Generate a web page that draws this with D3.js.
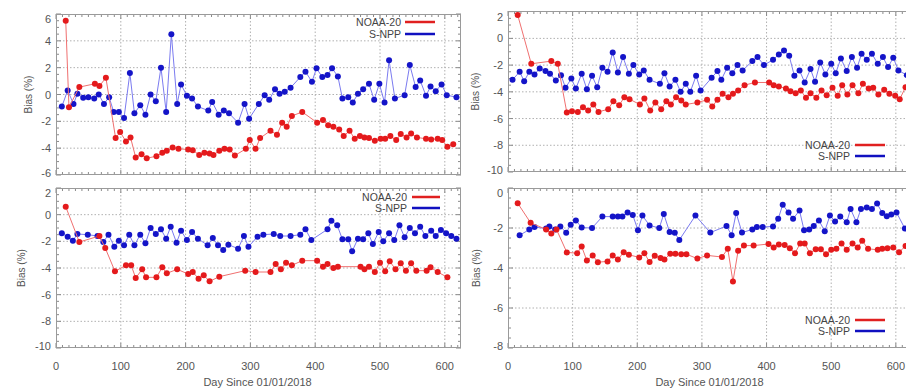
<!DOCTYPE html>
<html><head><meta charset="utf-8">
<script src="https://cdn.jsdelivr.net/npm/d3@7"></script>
<style>body{margin:0;background:#fff}svg{display:block;font-family:"Liberation Sans",Arial,sans-serif}</style>
</head><body><svg id="c" width="906" height="388"></svg>
<script>
// ---------------- DATA ----------------
const xTicks = [0,100,200,300,400,500,600];
const xTitle = "Day Since 01/01/2018";
const yTitle = "Bias (%)";
const seriesNames = ["NOAA-20","S-NPP"];
const yTicksA = [-6,-4,-2,0,2,4,6];
const yTicksB = [-10,-8,-6,-4,-2,0,2];
const yTicksC = [-10,-8,-6,-4,-2,0,2];
const yTicksD = [-8,-6,-4,-2,0];

// Panel A (top-left)
const noaaDaysA = [15,20,36,60,67,77,92,99,108,115,123,132,140,155,164,171,180,189,204,211,221,229,237,243,252,260,268,276,293,299,308,315,331,341,349,356,364,380,403,412,420,428,437,444,453,461,469,476,483,492,501,508,516,525,532,541,548,557,571,579,589,596,604,613];
const noaaBiasA = [5.5,-0.95,0.55,0.8,0.63,1.25,-3.25,-2.8,-3.5,-3.2,-4.7,-4.45,-4.75,-4.6,-4.35,-4.2,-3.95,-4.05,-4.1,-4.15,-4.5,-4.35,-4.4,-4.5,-4.2,-4.05,-4.1,-4.55,-4.05,-3.4,-4.05,-3.25,-2.7,-3.0,-2.1,-2.4,-1.6,-1.3,-2.1,-1.9,-2.3,-2.4,-2.6,-3.1,-2.7,-3.3,-3.1,-3.2,-3.25,-3.45,-3.3,-3.3,-3.1,-3.4,-2.95,-3.2,-2.9,-3.2,-3.3,-3.35,-3.3,-3.4,-3.9,-3.7];
const snppDaysA = [9,18,27,33,42,50,59,66,74,82,89,97,105,114,121,130,138,146,154,162,170,178,187,193,202,210,219,235,241,251,259,267,281,291,298,313,322,329,338,345,353,362,377,385,395,402,411,419,426,435,442,451,458,466,474,483,491,499,507,514,523,538,546,555,562,571,578,586,595,603,618];
const snppBiasA = [-0.9,0.3,-0.7,0.05,-0.25,-0.2,-0.3,0,-0.7,-0.2,-1.3,-1.3,-1.75,1.6,-1.4,-0.8,-1.5,0,-0.5,2.0,-1.3,4.5,-0.7,0.75,-0.1,-0.3,-0.9,-1.2,-0.55,-1.5,-1.2,-1.4,-2.1,-0.7,-1.8,-0.7,-0.05,-0.4,0.4,0.05,0.2,0.5,1.3,1.7,0.95,1.95,1.3,1.45,1.95,1.35,-0.3,-0.2,-0.6,0.05,0.4,0.8,-0.4,0.8,-0.6,2.55,-0.3,-0.05,2.2,0.55,1.05,-0.1,0.6,0.25,0.75,-0.05,-0.2];

// Panel B (top-right)
const noaaDaysB = [15,36,67,77,91,99,108,116,124,132,140,155,163,172,180,188,204,211,220,228,237,245,252,260,268,275,293,308,316,324,332,341,348,356,366,382,404,411,419,430,437,445,453,461,468,477,485,493,502,510,517,525,533,542,549,558,565,573,582,590,599,606,615];
const noaaBiasB = [1.75,-1.9,-1.7,-1.9,-5.55,-5.45,-5.5,-5.15,-5.4,-4.95,-5.5,-5.3,-4.7,-5.0,-4.4,-4.55,-4.95,-4.5,-5.4,-4.8,-5.3,-4.7,-4.95,-4.4,-4.65,-4.95,-4.8,-4.6,-5.1,-4.6,-4.15,-4.4,-4.15,-3.9,-3.5,-3.3,-3.3,-3.5,-3.6,-3.75,-3.95,-4.1,-3.9,-4.45,-4.1,-4.45,-3.9,-4.25,-3.7,-4.3,-3.5,-4.2,-3.5,-4.1,-3.4,-3.75,-3.7,-4.2,-3.85,-4.15,-4.3,-4.55,-3.65];
const snppDaysB = [7,18,25,33,41,49,58,65,74,82,89,98,105,114,122,130,138,146,154,162,170,178,187,194,203,210,219,235,242,250,259,267,275,282,291,298,315,324,330,339,347,355,363,378,386,396,410,419,427,435,443,451,459,468,475,483,491,500,507,515,524,532,540,547,555,563,572,580,588,596,604,617];
const snppBiasB = [-3.1,-2.5,-3.2,-2.5,-2.7,-2.25,-2.45,-2.65,-3.15,-2.75,-3.7,-3.0,-3.75,-2.65,-3.8,-2.8,-3.65,-2.2,-2.5,-1.05,-2.55,-1.4,-2.65,-2.0,-2.7,-2.4,-3.1,-3.4,-2.6,-3.6,-3.1,-4.0,-3.4,-4.0,-2.8,-3.9,-2.95,-2.45,-3.1,-2.2,-2.6,-2.0,-2.4,-1.7,-1.4,-2.0,-1.6,-1.2,-0.9,-1.3,-2.8,-2.4,-3.3,-2.3,-3.25,-1.8,-2.7,-1.9,-2.6,-1.5,-2.45,-1.4,-2.2,-1.15,-1.6,-1.15,-1.9,-1.4,-2.15,-1.45,-2.4,-2.75];

// Panel C (bottom-left)
const noaaDaysC = [15,36,67,76,91,108,116,123,133,139,155,164,171,187,204,211,220,228,237,252,292,308,331,339,347,355,364,380,403,412,419,428,435,470,476,483,492,500,508,515,524,532,540,548,556,572,578,589,604];
const noaaBiasC = [0.6,-2.05,-1.6,-2.5,-4.25,-3.8,-3.8,-4.75,-4.1,-4.7,-4.7,-3.95,-4.4,-4.1,-4.45,-4.3,-4.8,-4.55,-5.0,-4.65,-4.2,-4.3,-4.3,-3.7,-4.1,-3.6,-3.8,-3.45,-3.45,-3.9,-3.7,-4.0,-3.9,-3.9,-4.1,-3.9,-4.3,-3.6,-4.25,-3.5,-4.1,-3.65,-4.2,-3.65,-4.2,-4.2,-3.95,-4.3,-4.7];
const snppDaysC = [9,18,26,33,49,64,73,81,90,97,105,113,121,130,138,146,154,162,170,177,186,193,202,210,219,234,242,250,258,266,281,290,297,311,320,336,346,362,377,385,394,419,425,434,442,451,457,466,474,482,489,498,505,514,522,530,538,546,554,562,570,579,586,594,602,610,618];
const snppBiasC = [-1.4,-1.65,-1.95,-1.45,-1.5,-1.6,-2.05,-1.5,-2.4,-1.95,-2.3,-1.5,-2.3,-1.5,-2.15,-1.0,-1.45,-1.1,-1.8,-0.9,-2.1,-1.2,-1.9,-1.3,-1.8,-2.3,-1.75,-2.3,-2.65,-2.25,-2.55,-1.6,-2.4,-1.65,-1.5,-1.45,-1.6,-1.6,-1.5,-1.1,-1.9,-1.1,-0.45,-0.8,-1.85,-1.85,-2.75,-1.8,-1.85,-1.4,-2.2,-1.3,-2.0,-1.4,-1.9,-0.8,-1.7,-1.0,-1.4,-0.9,-1.6,-1.2,-1.6,-1.15,-1.4,-1.6,-1.8];

// Panel D (bottom-right)
const noaaDaysD = [15,35,59,67,75,91,107,114,122,131,139,154,162,170,179,187,203,211,219,227,236,242,251,259,268,276,293,308,331,340,348,356,365,380,403,411,419,428,436,444,452,459,467,476,484,492,500,508,516,524,533,541,548,557,572,579,587,596,605,615];
const noaaBiasD = [-0.76,-1.74,-2.07,-2.28,-2.07,-3.22,-3.26,-2.93,-3.63,-3.37,-3.71,-3.67,-3.37,-3.58,-3.21,-3.34,-3.47,-3.26,-3.7,-3.39,-3.5,-3.58,-3.29,-3.29,-3.31,-3.31,-3.53,-3.37,-3.45,-3.04,-4.68,-3.14,-2.88,-2.88,-2.8,-2.98,-2.82,-2.85,-3.01,-3.26,-2.77,-2.77,-3.26,-3.06,-3.06,-3.31,-3.09,-3.04,-2.77,-3.09,-2.77,-2.98,-2.64,-3.04,-3.09,-3.04,-3.01,-2.98,-3.21,-2.9];
const snppDaysD = [18,33,41,59,64,73,81,90,97,105,114,130,146,162,170,177,185,193,201,208,219,234,241,250,258,265,290,313,338,346,353,362,378,385,394,410,418,425,434,441,451,458,466,473,481,490,498,506,514,524,530,539,546,555,563,571,579,586,593,601,614];
const snppBiasD = [-2.36,-2.08,-1.95,-2.03,-1.92,-2.08,-1.92,-2.24,-1.84,-1.62,-1.98,-2.0,-1.43,-1.43,-1.43,-1.43,-1.22,-1.35,-2.11,-1.38,-1.87,-2.0,-1.3,-2.2,-2.24,-2.6,-1.38,-2.23,-1.9,-2.36,-1.25,-2.23,-2.07,-1.95,-1.95,-1.92,-1.54,-0.84,-1.22,-1.54,-1.13,-2.11,-2.08,-1.9,-1.62,-2.16,-1.38,-1.67,-1.43,-1.71,-1.05,-1.71,-1.05,-0.97,-1.05,-0.78,-1.25,-1.41,-1.33,-1.22,-2.03];

// ---------------- LAYOUT ----------------
const colors = {noaaPt:"#e41a1c", noaaLine:"#f07070", noaaLeg:"#e02020",
                snppPt:"#1414c8", snppLine:"#7b7bf0", snppLeg:"#1010c0"};
const panels = [
  {l:56, t:14, r:461, b:175, yDom:[-6,6], yTicks:yTicksA, nd:noaaDaysA, nb:noaaBiasA, sd:snppDaysA, sb:snppBiasA,
   leg:{tx:401, lx0:405, lx1:435, y0:22, y1:34}, xLab:false, yTitleX:28},
  {l:508, t:11, r:912, b:172, yDom:[-10,2.05], yTicks:yTicksB, nd:noaaDaysB, nb:noaaBiasB, sd:snppDaysB, sb:snppBiasB,
   leg:{tx:850, lx0:855, lx1:885, y0:145, y1:156}, xLab:false, yTitleX:475},
  {l:56, t:188, r:461, b:348, yDom:[-10,2], yTicks:yTicksC, nd:noaaDaysC, nb:noaaBiasC, sd:snppDaysC, sb:snppBiasC,
   leg:{tx:407, lx0:412, lx1:440, y0:197, y1:208}, xLab:true, yTitleX:21},
  {l:508, t:188, r:912, b:348, yDom:[-8,0], yTicks:yTicksD, nd:noaaDaysD, nb:noaaBiasD, sd:snppDaysD, sb:snppBiasD,
   leg:{tx:850, lx0:855, lx1:885, y0:320, y1:331}, xLab:true, yTitleX:476}
];
const xMax = 625;
const svg = d3.select("#c");
const gridCol = "#b0b0b0", frameCol = "#9a9a9a", tickCol = "#8a8a8a", textCol = "#555";

panels.forEach((p, i) => {
  const x = d3.scaleLinear().domain([0, xMax]).range([p.l, p.r]);
  const y = d3.scaleLinear().domain(p.yDom).range([p.b, p.t]);
  const g = svg.append("g");

  g.selectAll(".gx").data(xTicks.filter(d => d > 0)).join("line")
    .attr("x1", d => x(d)).attr("x2", d => x(d)).attr("y1", p.t).attr("y2", p.b)
    .attr("stroke", gridCol).attr("stroke-width", 1).attr("stroke-dasharray", "1.5,2");
  g.selectAll(".gy").data(p.yTicks.filter(d => y(d) > p.t + 2 && y(d) < p.b - 2)).join("line")
    .attr("x1", p.l).attr("x2", p.r).attr("y1", d => y(d)).attr("y2", d => y(d))
    .attr("stroke", gridCol).attr("stroke-width", 1).attr("stroke-dasharray", "1.5,2");

  const xMinor = d3.range(0, xMax + 0.1, 10);
  const yMinor = d3.range(p.yDom[0], p.yDom[1] + 0.01, 0.5);
  xMinor.forEach(d => {
    const len = d % 100 === 0 ? 5 : 3;
    g.append("line").attr("x1", x(d)).attr("x2", x(d)).attr("y1", p.b).attr("y2", p.b - len).attr("stroke", tickCol);
    g.append("line").attr("x1", x(d)).attr("x2", x(d)).attr("y1", p.t).attr("y2", p.t + len).attr("stroke", tickCol);
  });
  yMinor.forEach(d => {
    const len = Math.abs(d % 2) < 1e-6 ? 5 : 3;
    g.append("line").attr("x1", p.l).attr("x2", p.l + len).attr("y1", y(d)).attr("y2", y(d)).attr("stroke", tickCol);
    g.append("line").attr("x1", p.r).attr("x2", p.r - len).attr("y1", y(d)).attr("y2", y(d)).attr("stroke", tickCol);
  });

  g.append("rect").attr("x", p.l + 0.5).attr("y", p.t + 0.5).attr("width", p.r - p.l - 1).attr("height", p.b - p.t - 1)
    .attr("fill", "none").attr("stroke", frameCol).attr("stroke-width", 1);

  const yMaxT = d3.max(p.yTicks), yMinT = d3.min(p.yTicks);
  g.selectAll(".yl").data(p.yTicks).join("text")
    .attr("x", p.l - 5)
    .attr("y", d => y(d) + 4 + (d === yMaxT ? 5 : 0) + (d === yMinT ? -2 : 0))
    .attr("text-anchor", "end").attr("font-size", 11).attr("fill", textCol)
    .text(d => d);

  g.append("text").attr("transform", `translate(${p.yTitleX},${(p.t + p.b) / 2}) rotate(-90)`)
    .attr("text-anchor", "middle").attr("dy", "0.35em").attr("font-size", 10).attr("fill", textCol)
    .text(yTitle);

  if (p.xLab) {
    g.selectAll(".xl").data(xTicks).join("text")
      .attr("x", d => x(d)).attr("y", p.b + 22)
      .attr("text-anchor", "middle").attr("font-size", 11).attr("fill", textCol).text(d => d);
    g.append("text").attr("x", x(0) + (457 - 56) / 2 + 1).attr("y", p.b + 38)
      .attr("text-anchor", "middle").attr("font-size", 11).attr("fill", textCol).text(xTitle);
  }

  const line = d3.line().x(d => x(d[0])).y(d => y(d[1]));
  const nData = p.nd.map((d, k) => [d, p.nb[k]]);
  const sData = p.sd.map((d, k) => [d, p.sb[k]]);
  [[sData, colors.snppLine, colors.snppPt], [nData, colors.noaaLine, colors.noaaPt]].forEach(([data, lc, pc]) => {
    g.append("path").datum(data).attr("d", line).attr("fill", "none").attr("stroke", lc).attr("stroke-width", 1);
    g.append("g").selectAll("circle").data(data).join("circle")
      .attr("cx", d => x(d[0])).attr("cy", d => y(d[1])).attr("r", 3).attr("fill", pc);
  });

  const lg = g.append("g");
  [[seriesNames[0], colors.noaaLeg, p.leg.y0], [seriesNames[1], colors.snppLeg, p.leg.y1]].forEach(([name, c, yy]) => {
    lg.append("text").attr("x", p.leg.tx).attr("y", yy + 4).attr("text-anchor", "end")
      .attr("font-size", 10.5).attr("fill", "#444").text(name);
    lg.append("line").attr("x1", p.leg.lx0).attr("x2", p.leg.lx1).attr("y1", yy).attr("y2", yy)
      .attr("stroke", c).attr("stroke-width", 2.5);
  });
});
</script></body></html>
